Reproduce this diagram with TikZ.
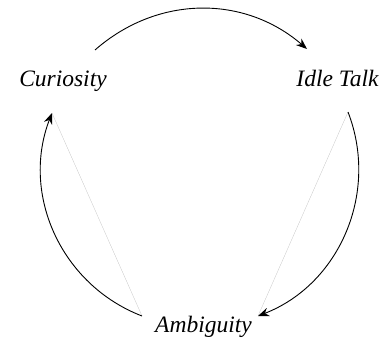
\documentclass[tikz,border=0pt]{standalone}
\usepackage{fontspec}
\setmainfont{Liberation Serif}
\usetikzlibrary{arrows.meta}
\begin{document}
\begin{tikzpicture}[x=1pt,y=1pt,
  lbl/.style={anchor=base,inner sep=0pt,font=\fontsize{23.5}{28}\selectfont\itshape},
  cyc/.style={line width=0.9pt,-{Stealth[length=11pt,width=8.5pt]}},
  chord/.style={line width=0.25pt,draw=black!25}]
\useasboundingbox (0,0) rectangle (385,341);
\node[lbl] (cur) at (63,255) {Curiosity};
\node[lbl] (idle) at (337.5,255) {Idle Talk};
\node[lbl] (amb) at (203.5,9) {Ambiguity};
\coordinate (a1) at (95,291);
\coordinate (a2) at (307,292);
\coordinate (b1) at (348,229);
\coordinate (b2) at (258,25);
\coordinate (c1) at (142,25);
\coordinate (c2) at (52,228);
\draw[chord] (b1) -- (b2);
\draw[chord] (c1) -- (c2);
\draw[cyc] (a1) to[bend left=41] (a2);
\draw[cyc] (b1) to[bend left=45] (b2);
\draw[cyc] (c1) to[bend left=45] (c2);
\end{tikzpicture}
\end{document}
